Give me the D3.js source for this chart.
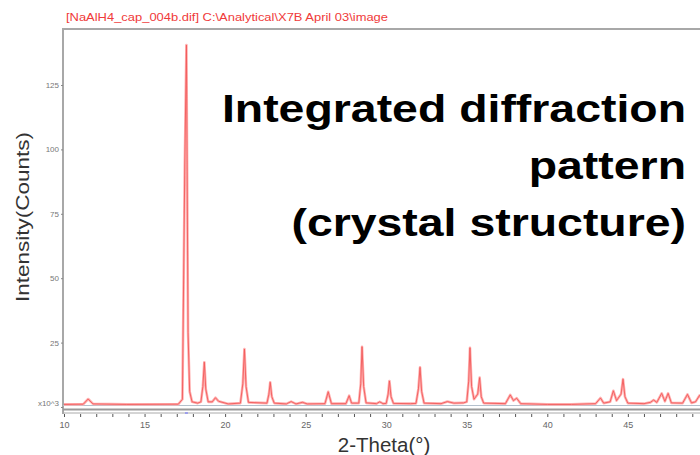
<!DOCTYPE html>
<html>
<head>
<meta charset="utf-8">
<script src="https://cdn.jsdelivr.net/npm/d3@7"></script>
<style>
  body { margin: 0; background: #fff; }
  svg { display: block; font-family: "Liberation Sans", Arial, sans-serif; }
  .y-axis path, .x-axis path { display: none; }
  .y-axis line { stroke: #888; }
  .x-axis line { stroke: #555; }
  .y-axis text { fill: #777; font-size: 8px; }
  .x-axis text { fill: #666; font-size: 9px; }
</style>
</head>
<body>
<div id="chart"></div>
<script>
// 2-Theta (deg) and intensity (counts x10^3)
const twoTheta = [
  10.0, 11.2, 11.5, 11.8, 13.9, 17.1, 17.35, 17.5, 17.6, 17.7, 17.8, 17.95, 18.3,
  18.5, 18.62, 18.71, 18.8, 18.95, 19.2, 19.4, 19.6, 20.2,
  20.95, 21.1, 21.2, 21.3, 21.45, 22.6, 22.72, 22.8, 22.9, 23.05,
  23.8, 24.1, 24.4, 24.8, 25.1, 26.2, 26.4, 26.6, 27.5, 27.7, 27.85,
  28.3, 28.42, 28.5, 28.6, 28.75, 29.4, 29.6, 29.8,
  30.0, 30.12, 30.2, 30.3, 30.45, 31.5, 31.85, 32.0, 32.1, 32.2, 32.35,
  33.4, 33.8, 34.2, 34.8, 35.0, 35.12, 35.2, 35.3, 35.45, 35.68, 35.8, 35.9, 36.05,
  37.4, 37.7, 37.9, 38.1, 38.35, 40.0, 41.5, 43.0, 43.3, 43.5,
  43.9, 44.1, 44.3, 44.58, 44.7, 44.82, 45.0, 46.0, 46.4, 46.6, 46.8,
  47.1, 47.3, 47.5, 47.7, 48.4, 48.7, 48.95, 49.2, 49.45, 49.7, 50.0
];
const counts = [
  1.0, 1.1, 3.1, 1.2, 1.0, 1.1, 3.0, 94.7, 140.5, 29.0, 6.0, 2.0, 1.5,
  2.0, 8.0, 17.4, 7.0, 2.0, 2.0, 3.6, 2.2, 1.2,
  1.5, 9.0, 22.5, 8.0, 1.8, 1.5, 5.0, 9.6, 4.0, 1.5,
  1.2, 2.1, 1.2, 1.8, 1.2, 1.3, 5.9, 1.3, 1.3, 4.4, 1.5,
  1.5, 9.0, 23.4, 8.0, 1.6, 1.3, 2.0, 1.3,
  1.4, 5.0, 10.1, 4.0, 1.4, 1.3, 1.4, 7.0, 15.4, 6.0, 1.5,
  1.3, 2.1, 1.5, 1.6, 2.0, 10.0, 23.0, 8.0, 3.0, 5.0, 11.4, 4.0, 1.5,
  1.3, 4.7, 2.5, 3.4, 1.3, 1.0, 1.0, 1.3, 3.5, 1.5,
  2.0, 6.3, 2.5, 5.0, 10.8, 4.0, 1.5, 1.3, 1.8, 2.7, 1.8,
  5.3, 2.2, 5.3, 1.6, 1.5, 4.9, 1.6, 2.0, 4.5, 2.0, 1.5
];
const xTicks = [10, 15, 20, 25, 30, 35, 40, 45];
const xMinorTicks = [10, 11, 12, 13, 14, 15, 16, 17, 18, 19, 20, 21, 22, 23, 24, 25, 26, 27, 28, 29,
  30, 31, 32, 33, 34, 35, 36, 37, 38, 39, 40, 41, 42, 43, 44, 45, 46, 47, 48, 49];
const yTicks = [0, 25, 50, 75, 100, 125];
const peakMarks = [17.6];

const fileTitle = "[NaAlH4_cap_004b.dif] C:\\Analytical\\X7B April 03\\image";
const bigText = ["Integrated diffraction", "pattern", "(crystal structure)"];

const W = 700, H = 455;
const svg = d3.select("#chart").append("svg")
    .attr("width", W)
    .attr("height", H);

svg.append("rect").attr("width", W).attr("height", H).attr("fill", "#fff");

const x = d3.scaleLinear().domain([10, 50]).range([64, 708.4]);
const y = d3.scaleLinear().domain([0, 125]).range([407, 85]);

const data = twoTheta.map((t, i) => ({t, c: counts[i]}));

// frame
svg.append("line").attr("x1", 63).attr("x2", W).attr("y1", 29).attr("y2", 29)
    .attr("stroke", "#a8a8a8").attr("stroke-width", 2);
svg.append("line").attr("x1", 63).attr("x2", 63).attr("y1", 28).attr("y2", 414)
    .attr("stroke", "#a8a8a8").attr("stroke-width", 2);
svg.append("line").attr("x1", 63).attr("x2", W).attr("y1", 405.5).attr("y2", 405.5)
    .attr("stroke", "#b4c0cc").attr("stroke-width", 1);
svg.append("line").attr("x1", 63).attr("x2", W).attr("y1", 409.5).attr("y2", 409.5)
    .attr("stroke", "#999").attr("stroke-width", 2);
svg.append("line").attr("x1", 63).attr("x2", W).attr("y1", 413).attr("y2", 413)
    .attr("stroke", "#aaa").attr("stroke-width", 1);

// y axis
const yAxis = svg.append("g")
    .attr("class", "y-axis")
    .attr("transform", "translate(63,0)")
    .call(d3.axisLeft(y).tickValues(yTicks).tickSize(2).tickPadding(2)
        .tickFormat(d => d === 0 ? "x10^3" : d));
yAxis.selectAll(".tick").filter(d => d === 0).select("text").attr("dy", "-0.2em");

// x axis (minor ticks each degree, labels every 5)
svg.append("g")
    .attr("class", "x-axis")
    .attr("transform", "translate(0,414)")
    .call(d3.axisBottom(x).tickValues(xMinorTicks).tickSize(3).tickPadding(5)
        .tickFormat(d => xTicks.includes(d) ? d : ""));

// peak marker
svg.selectAll("line.peak").data(peakMarks).enter().append("line")
    .attr("class", "peak")
    .attr("x1", d => x(d) - 1.5).attr("x2", d => x(d) + 1.5)
    .attr("y1", 413).attr("y2", 413)
    .attr("stroke", "#8a8cf0").attr("stroke-width", 1.5);

// pattern
const line = d3.line().x(d => x(d.t)).y(d => y(d.c));
svg.append("path").datum(data)
    .attr("fill", "none").attr("stroke", "#ffb0b0").attr("stroke-width", 2.6)
    .attr("stroke-linejoin", "round")
    .attr("d", line);
svg.append("path").datum(data)
    .attr("fill", "none").attr("stroke", "#f25a5a").attr("stroke-width", 0.9)
    .attr("stroke-linejoin", "round")
    .attr("d", line);

// texts
svg.append("text")
    .attr("x", 66).attr("y", 21)
    .attr("fill", "#f03a3a").style("font-size", "11px")
    .attr("textLength", 322).attr("lengthAdjust", "spacingAndGlyphs")
    .text(fileTitle);

svg.append("text")
    .attr("transform", "translate(29,217) rotate(-90)")
    .attr("text-anchor", "middle")
    .attr("fill", "#333").style("font-size", "19px")
    .attr("textLength", 170).attr("lengthAdjust", "spacingAndGlyphs")
    .text("Intensity(Counts)");

svg.append("text")
    .attr("x", 384).attr("y", 452)
    .attr("text-anchor", "middle")
    .attr("fill", "#333").style("font-size", "20.5px")
    .text("2-Theta(°)");

svg.selectAll("text.big").data(bigText).enter().append("text")
    .attr("class", "big")
    .attr("transform", (d, i) => `translate(686,${121.5 + i * 57}) scale(1.19,1)`)
    .attr("text-anchor", "end")
    .attr("fill", "#000")
    .style("font-size", "39px").style("font-weight", "bold")
    .text(d => d);
</script>
</body>
</html>
